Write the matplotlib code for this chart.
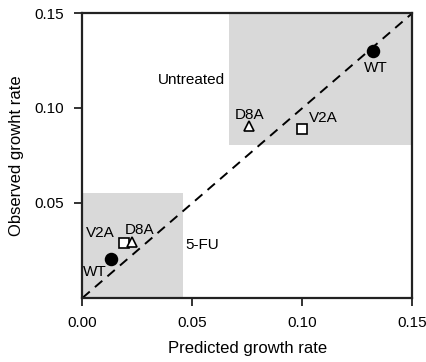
import matplotlib
matplotlib.use("Agg")
import matplotlib.pyplot as plt
from matplotlib.patches import Rectangle

plt.rcParams['font.family'] = ['Liberation Sans', 'DejaVu Sans']

# Predicted vs observed growth rates
strains = ['WT', 'V2A', 'D8A']
markers = ['o', 's', '^']
untreated_pred = [0.132, 0.100, 0.0755]
untreated_obs = [0.130, 0.089, 0.0905]
fu_pred = [0.0128, 0.0189, 0.0224]
fu_obs = [0.0205, 0.0288, 0.0296]

# shaded regions: (x0, y0, x1, y1)
fu_box = (0.0, 0.0, 0.0457, 0.0554)
untreated_box = (0.0666, 0.0805, 0.15, 0.15)

fig = plt.figure(figsize=(4.27, 3.62), dpi=100)
ax = fig.add_axes([0.193, 0.177, 0.773, 0.787])

for x0, y0, x1, y1 in [fu_box, untreated_box]:
    ax.add_patch(Rectangle((x0, y0), x1 - x0, y1 - y0, color='#d9d9d9', lw=0, zorder=0))

ax.plot([0, 0.15], [0, 0.15], ls=(0, (5, 3.5)), color='black', lw=1.4, zorder=1)

for pred, obs in [(untreated_pred, untreated_obs), (fu_pred, fu_obs)]:
    for name, m, px, py in zip(strains, markers, pred, obs):
        filled = name == 'WT'
        size = {'o': 8.5, 's': 6.5, '^': 7}[m]
        ax.plot(px, py, marker=m, ms=size, mec='black', mew=1.2,
                mfc='black' if filled else 'white', ls='none', zorder=3)

fs = 11
# point labels
ax.text(0.1335, 0.1212, 'WT', ha='center', va='center', fontsize=fs)
ax.text(0.0758, 0.0963, 'D8A', ha='center', va='center', fontsize=fs)
ax.text(0.1093, 0.0947, 'V2A', ha='center', va='center', fontsize=fs)
ax.text(0.0080, 0.0344, 'V2A', ha='center', va='center', fontsize=fs)
ax.text(0.0261, 0.0358, 'D8A', ha='center', va='center', fontsize=fs)
ax.text(0.0057, 0.0138, 'WT', ha='center', va='center', fontsize=fs)
# treatment labels
ax.text(0.0496, 0.1147, 'Untreated', ha='center', va='center', fontsize=fs)
ax.text(0.0544, 0.0280, '5-FU', ha='center', va='center', fontsize=fs)

ax.set_xlim(0, 0.15)
ax.set_ylim(0, 0.15)
ax.set_xticks([0.0, 0.05, 0.10, 0.15])
ax.set_yticks([0.05, 0.10, 0.15])
ax.xaxis.set_major_formatter(plt.FormatStrFormatter('%.2f'))
ax.yaxis.set_major_formatter(plt.FormatStrFormatter('%.2f'))
ax.tick_params(direction='out', length=6, width=1.3, color='#222222',
               labelsize=fs, pad=7)
for sp in ax.spines.values():
    sp.set_linewidth(1.6)
    sp.set_color('#222222')

ax.set_xlabel('Predicted growth rate', fontsize=12, labelpad=8)
ax.set_ylabel('Observed growht rate', fontsize=12, labelpad=8)

fig.savefig('out.png', dpi=100)
